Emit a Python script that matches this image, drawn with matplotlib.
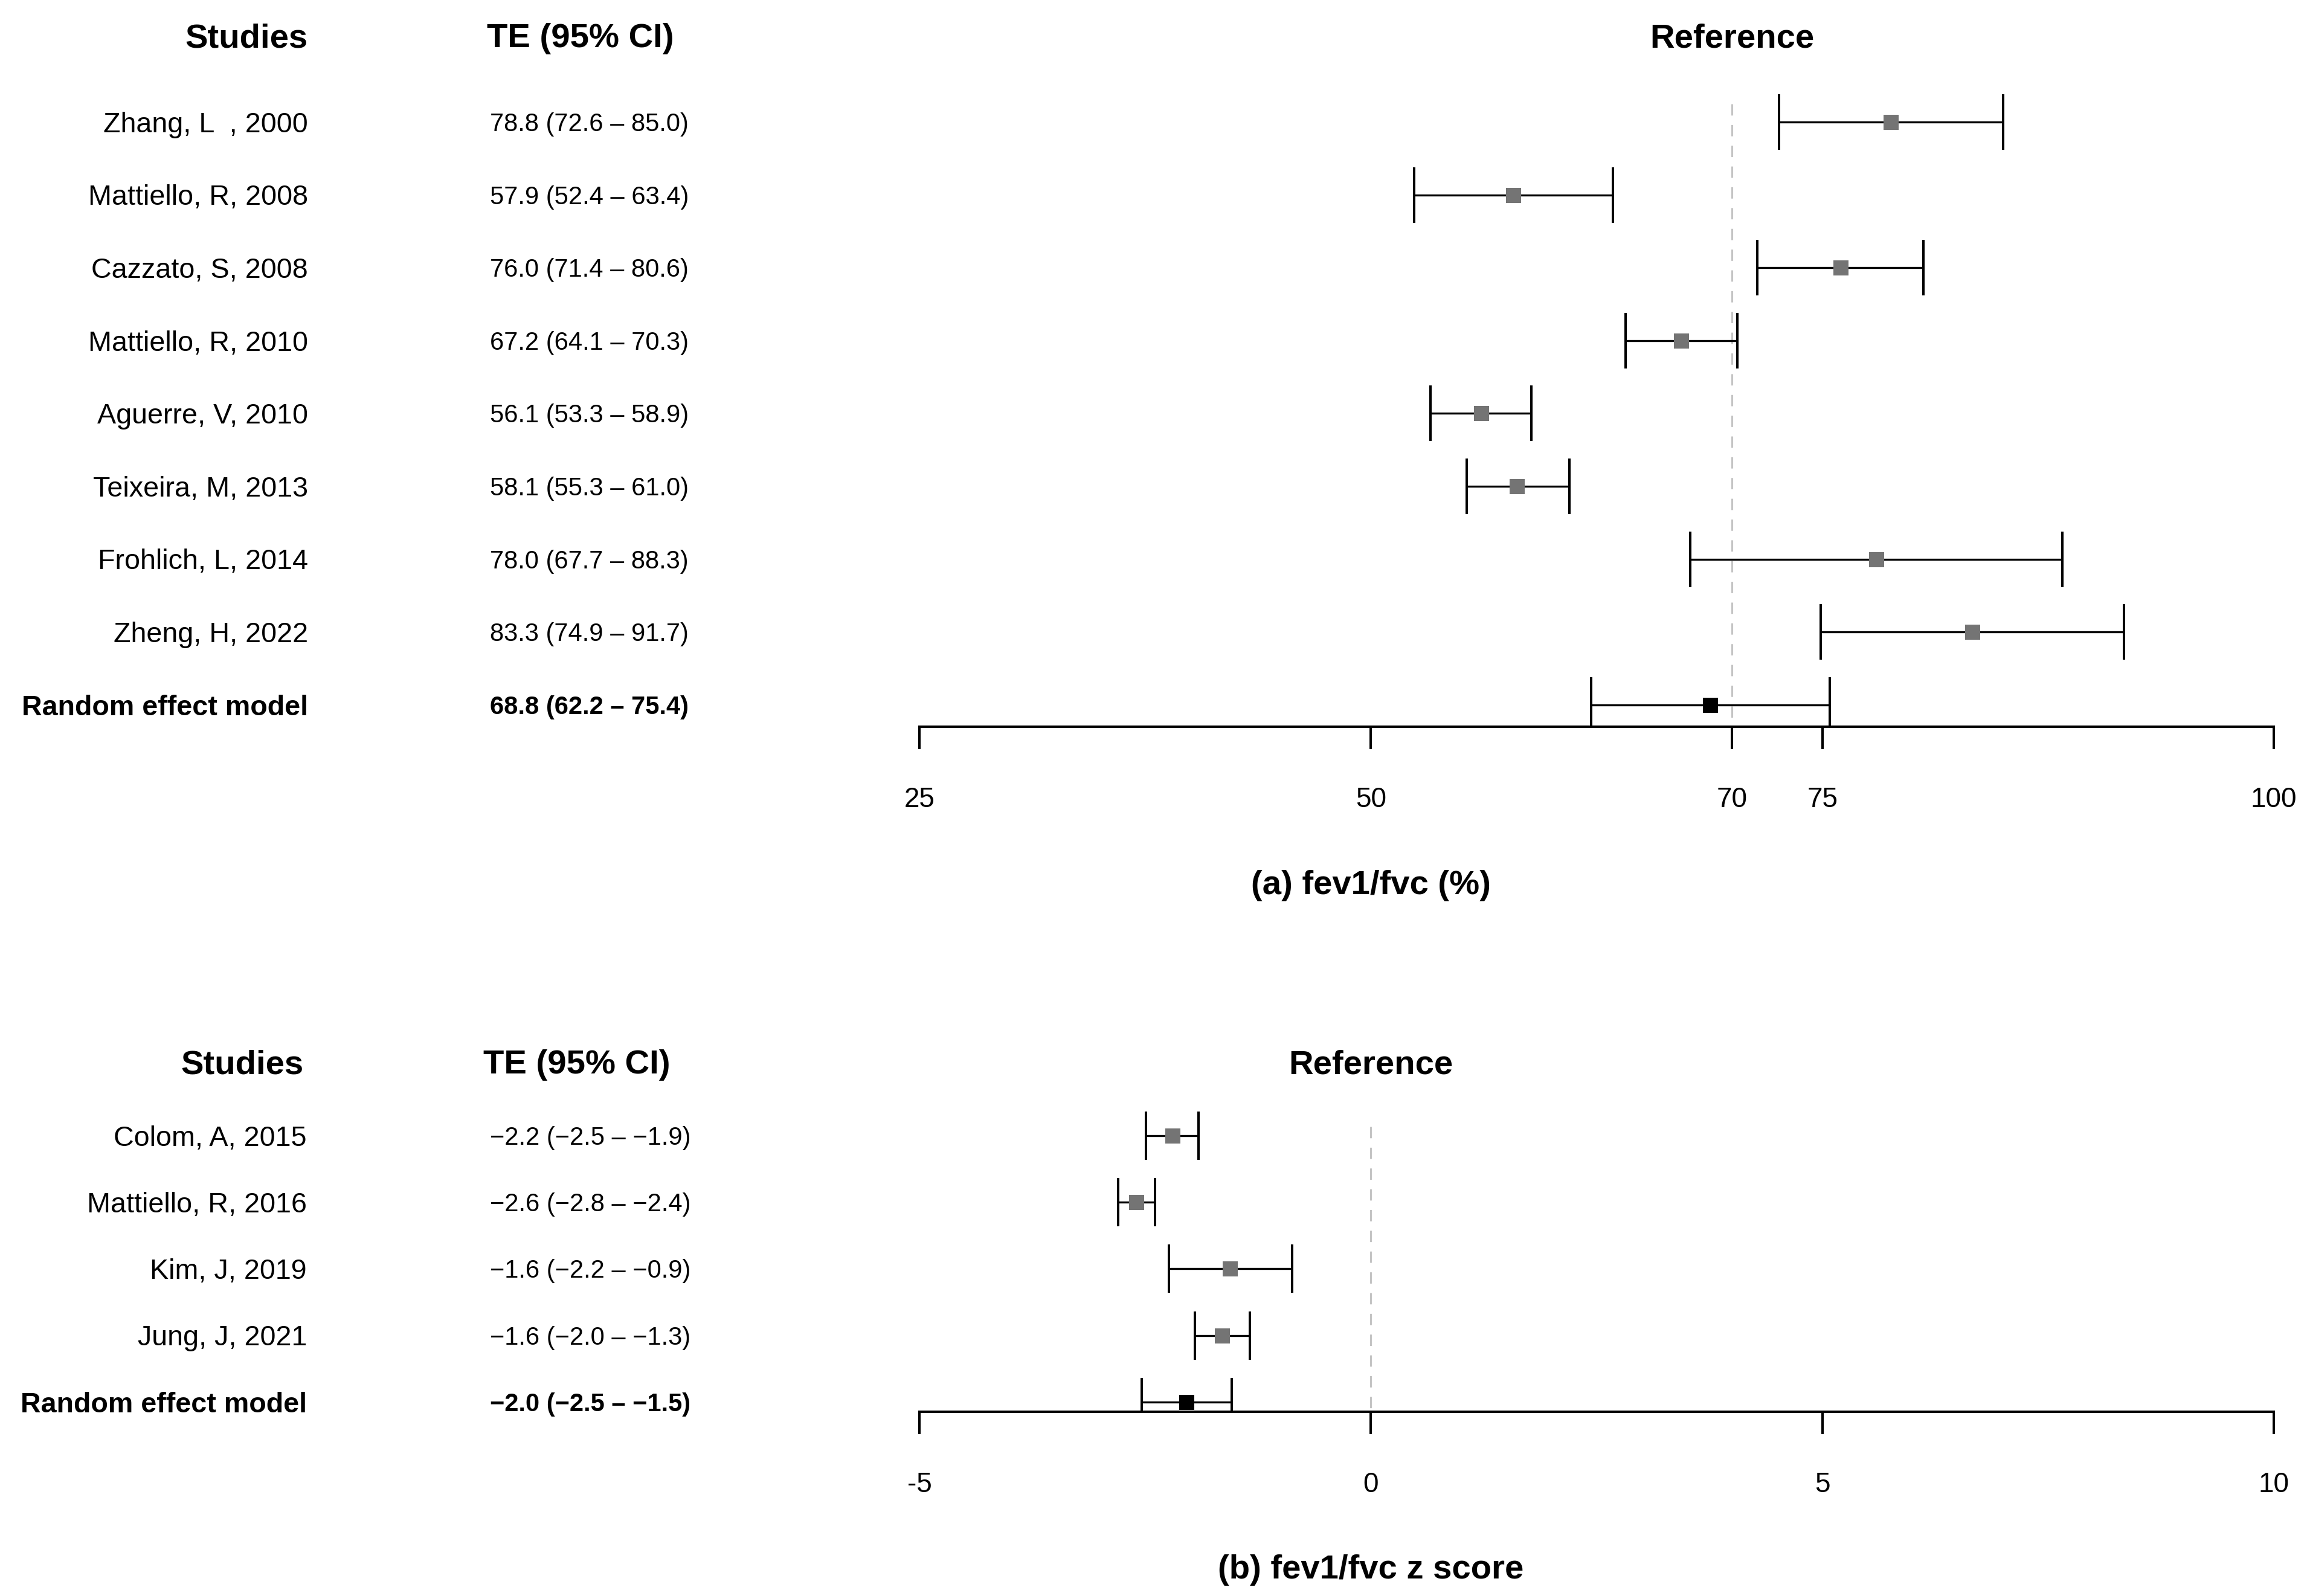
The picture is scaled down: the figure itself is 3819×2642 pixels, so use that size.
import matplotlib
matplotlib.use('Agg')
import matplotlib.pyplot as plt
import matplotlib.transforms as mtransforms

plt.rcParams['font.family'] = ['Liberation Sans', 'DejaVu Sans']

W, H, DPI = 3820, 2642, 300

# ---- panel (a): fev1/fvc (%)
studies_a = ['Zhang, L  , 2000', 'Mattiello, R, 2008', 'Cazzato, S, 2008',
             'Mattiello, R, 2010', 'Aguerre, V, 2010', 'Teixeira, M, 2013',
             'Frohlich, L, 2014', 'Zheng, H, 2022']
te_a = [78.8, 57.9, 76.0, 67.2, 56.1, 58.1, 78.0, 83.3]
lo_a = [72.6, 52.4, 71.4, 64.1, 53.3, 55.3, 67.7, 74.9]
hi_a = [85.0, 63.4, 80.6, 70.3, 58.9, 61.0, 88.3, 91.7]
ci_text_a = ['78.8 (72.6 \u2013 85.0)', '57.9 (52.4 \u2013 63.4)', '76.0 (71.4 \u2013 80.6)',
             '67.2 (64.1 \u2013 70.3)', '56.1 (53.3 \u2013 58.9)', '58.1 (55.3 \u2013 61.0)',
             '78.0 (67.7 \u2013 88.3)', '83.3 (74.9 \u2013 91.7)']
pooled_a = [68.8, 62.2, 75.4]
pooled_text_a = '68.8 (62.2 \u2013 75.4)'
ref_a = 70
ticks_a = [25, 50, 70, 75, 100]
ticklabels_a = ['25', '50', '70', '75', '100']
xlim_a = (25, 100)
title_a = '(a) fev1/fvc (%)'

# ---- panel (b): fev1/fvc z score
studies_b = ['Colom, A, 2015', 'Mattiello, R, 2016', 'Kim, J, 2019', 'Jung, J, 2021']
te_b = [-2.20, -2.60, -1.56, -1.65]
lo_b = [-2.49, -2.80, -2.24, -1.95]
hi_b = [-1.91, -2.39, -0.87, -1.34]
ci_text_b = ['\u22122.2 (\u22122.5 \u2013 \u22121.9)', '\u22122.6 (\u22122.8 \u2013 \u22122.4)',
             '\u22121.6 (\u22122.2 \u2013 \u22120.9)', '\u22121.6 (\u22122.0 \u2013 \u22121.3)']
pooled_b = [-2.04, -2.54, -1.54]
pooled_text_b = '\u22122.0 (\u22122.5 \u2013 \u22121.5)'
ref_b = 0
ticks_b = [-5, 0, 5, 10]
ticklabels_b = ['-5', '0', '5', '10']
xlim_b = (-5, 10)
title_b = '(b) fev1/fvc z score'

fig = plt.figure(figsize=(W / DPI, H / DPI), dpi=DPI)
# pixel coordinates measured from the top-left corner
figpx = mtransforms.Affine2D().scale(1 / W, -1 / H).translate(0, 1) + fig.transFigure

PX = DPI / 72.0
LABEL_FS, CI_FS, HEAD_FS = 11.2, 10, 13.5


def put(x, yc, s, fs, trans=figpx, **kw):
    # place text so that the middle of its capitals sits at yc (pixels)
    fig.text(x, yc + 0.358 * fs * PX, s, fontsize=fs, va='baseline',
             transform=trans, **kw)


def forest(studies, te, lo, hi, ci_text, pooled, pooled_text, ref, ticks,
           ticklabels, xlim, title, top, row0, step, axis_y, head_y, dash_top,
           title_y, study_x, head_study_x, ci_x, head_ci_x, cap):
    x0, x1 = 1522, 3764
    ax = fig.add_axes([x0 / W, 1 - axis_y / H, (x1 - x0) / W, (axis_y - top) / H])
    n = len(studies)
    rows = list(range(n))
    ax.set_xlim(*xlim)
    ax.set_ylim((axis_y - row0) / step, (top - row0) / step)

    ax.plot([ref, ref], [(dash_top - row0) / step, (axis_y - row0) / step],
            color='#c4c4c4', lw=0.75, ls=(0, (6, 5)), zorder=1)

    ax.errorbar(te, rows, xerr=[[t - l for t, l in zip(te, lo)],
                                [h - t for t, h in zip(te, hi)]],
                fmt='none', ecolor='black', elinewidth=0.8, capsize=cap,
                capthick=0.96, zorder=2)
    ax.plot(te, rows, 's', color='#747474', ms=6, mew=0, zorder=3)

    ax.errorbar([pooled[0]], [n], xerr=[[pooled[0] - pooled[1]], [pooled[2] - pooled[0]]],
                fmt='none', ecolor='black', elinewidth=0.8, capsize=cap,
                capthick=0.96, zorder=2)
    ax.plot([pooled[0]], [n], 's', color='black', ms=6, mew=0, zorder=3)

    for sp in ['top', 'right', 'left']:
        ax.spines[sp].set_visible(False)
    ax.spines['bottom'].set_linewidth(0.96)
    ax.set_yticks([])
    ax.set_xticks(ticks)
    ax.set_xticklabels(ticklabels)
    ax.tick_params(axis='x', length=8.9, width=0.96, pad=14.8, labelsize=11)
    ax.patch.set_visible(False)

    # left columns
    for i in range(n):
        yc = row0 + step * i
        put(study_x, yc, studies[i], LABEL_FS, ha='right')
        put(ci_x, yc, ci_text[i], CI_FS, ha='left')
    yc = row0 + step * n
    put(study_x, yc, 'Random effect model', LABEL_FS, ha='right', fontweight='bold')
    put(ci_x, yc, pooled_text, CI_FS, ha='left', fontweight='bold')

    put(head_study_x, head_y, 'Studies', HEAD_FS, ha='right', fontweight='bold')
    put(head_ci_x, head_y, 'TE (95% CI)', HEAD_FS, ha='left', fontweight='bold')

    xdata = mtransforms.blended_transform_factory(ax.transData, figpx)
    put(ref, head_y, 'Reference', HEAD_FS, trans=xdata, ha='center', fontweight='bold')
    put(sum(xlim) / 2 - (xlim[1] - xlim[0]) / 6, title_y, title, HEAD_FS, trans=xdata,
        ha='center', fontweight='bold')
    return ax


forest(studies_a, te_a, lo_a, hi_a, ci_text_a, pooled_a, pooled_text_a, ref_a,
       ticks_a, ticklabels_a, xlim_a, title_a,
       top=40, row0=202, step=120.6, axis_y=1203, head_y=58, dash_top=172,
       title_y=1460, study_x=510, head_study_x=510, ci_x=811, head_ci_x=806, cap=11)

forest(studies_b, te_b, lo_b, hi_b, ci_text_b, pooled_b, pooled_text_b, ref_b,
       ticks_b, ticklabels_b, xlim_b, title_b,
       top=1720, row0=1880, step=110.2, axis_y=2337, head_y=1757, dash_top=1865,
       title_y=2593, study_x=508, head_study_x=503, ci_x=811, head_ci_x=800, cap=9.6)

fig.savefig('out.png', dpi=DPI)
